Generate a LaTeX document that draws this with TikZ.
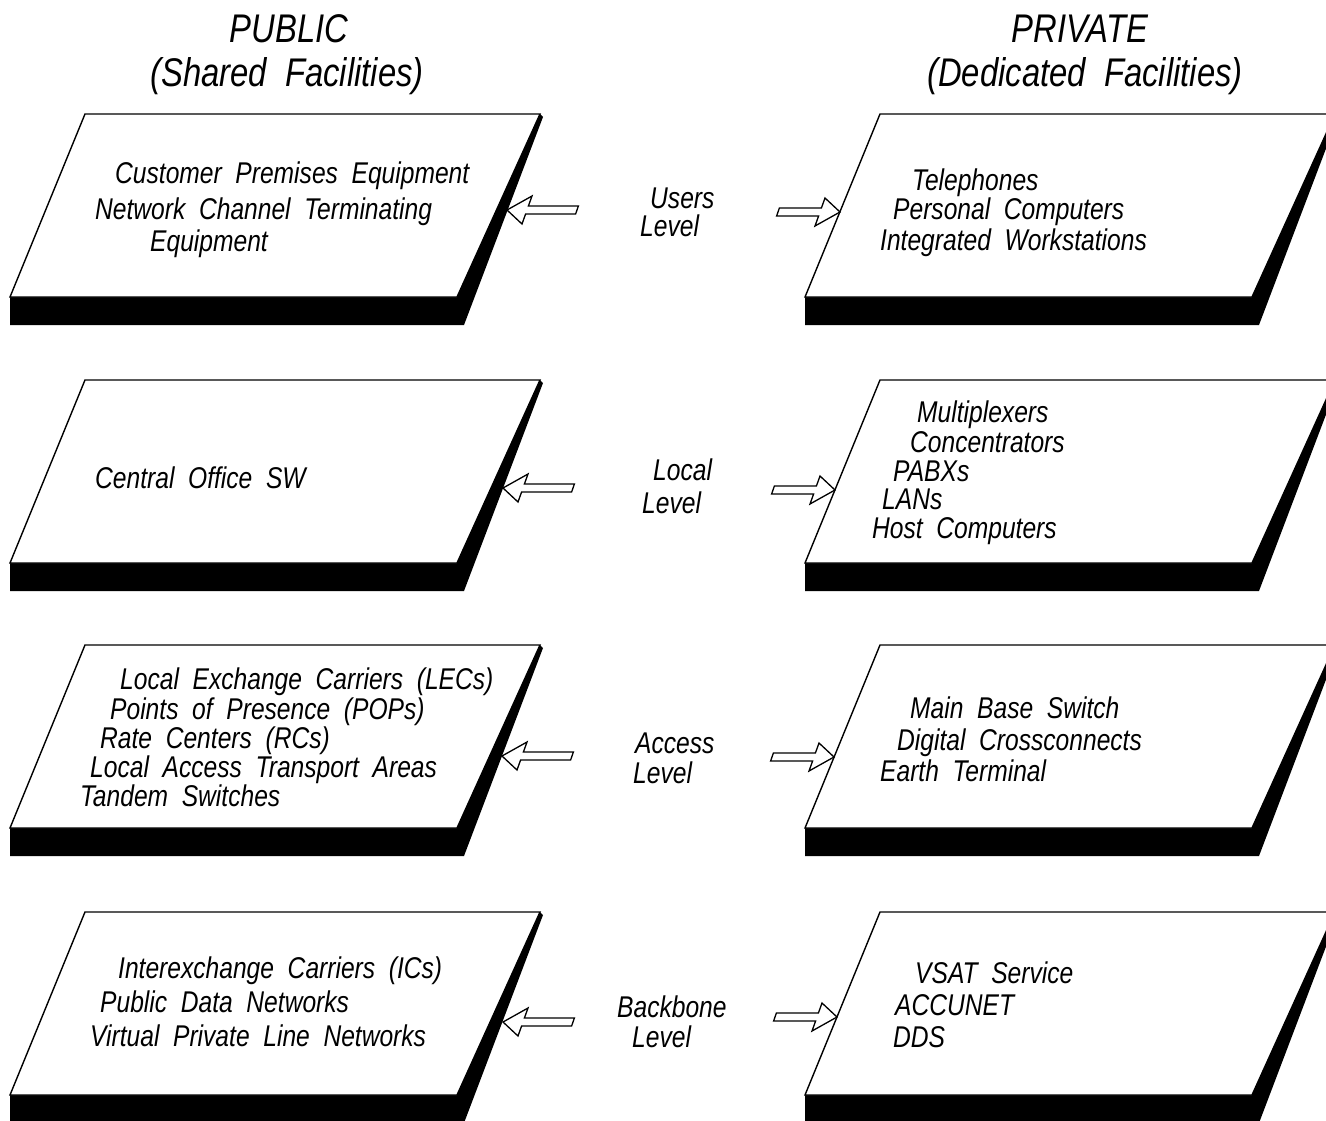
\documentclass[tikz,border=0pt]{standalone}
\usepackage{fontspec}
\setmainfont{Liberation Sans}[FakeStretch=0.82, WordSpace=2.0]
\tikzset{
  txt/.style={font=\fontsize{30}{30}\selectfont\itshape, inner sep=0pt, anchor=base west},
  head/.style={font=\fontsize{40}{40}\selectfont\itshape, inner sep=0pt, anchor=base},
  face/.style={draw=black, fill=white, line width=1.4pt, line join=miter},
  hollow/.style={draw=black, fill=white, line width=1.3pt, line join=miter},
  % a raised plate: white top face, black front edge and right side
  slab/.pic={
    \fill[black] (-75,183) -- (372,183) -- (455,0) -- (458,3) -- (379,211) -- (-75,211) -- cycle;
    \draw[face] (0,0) -- (455,0) -- (372,183) -- (-75,183) -- cycle;
  },
  % hollow slanted block arrows, tip at the origin
  larrow/.pic={
    \draw[hollow] (0,0) -- (25,-14) -- (21.4,-4) -- (71.4,-4) -- (68.6,4) -- (18.6,4) -- (15,14) -- cycle;
  },
  rarrow/.pic={
    \draw[hollow] (0,0) -- (-15,-14) -- (-18.6,-4) -- (-60.6,-4) -- (-63.4,4) -- (-21.4,4) -- (-25,14) -- cycle;
  }
}
\begin{document}
\begin{tikzpicture}[x=1pt,y=-1pt]
\useasboundingbox (0,0) rectangle (1326,1120);
\clip (0,0) rectangle (1326,1120);
\fill[white] (0,0) rectangle (1326,1120);

% column headings
\node[head] (pub)  at (289,42) {PUBLIC};
\node[head] (pubs) at (287,86) {(Shared Facilities)};
\node[head] (pri)  at (1080,42) {PRIVATE};
\node[head] (pris) at (1085,86) {(Dedicated Facilities)};

% plates
\foreach \r/\y in {1/114, 2/380, 3/645, 4/912} {
  \pic (pl\r) at (85,\y) {slab};
  \pic (pr\r) at (880,\y) {slab};
}

% public side
\node[txt] (l1a) at (115,183) {Customer Premises Equipment};
\node[txt] (l1b) at (95,219) {Network Channel Terminating};
\node[txt] (l1c) at (150,251) {Equipment};

\node[txt] (l2a) at (95,488) {Central Office SW};

\node[txt] (l3a) at (120,689) {Local Exchange Carriers (LECs)};
\node[txt] (l3b) at (110,719) {Points of Presence (POPs)};
\node[txt] (l3c) at (100,748) {Rate Centers (RCs)};
\node[txt] (l3d) at (90,777) {Local Access Transport Areas};
\node[txt] (l3e) at (80,806) {Tandem Switches};

\node[txt] (l4a) at (118,978) {Interexchange Carriers (ICs)};
\node[txt] (l4b) at (100,1012) {Public Data Networks};
\node[txt] (l4c) at (90,1046) {Virtual Private Line Networks};

% private side
\node[txt] (r1a) at (912,190) {Telephones};
\node[txt] (r1b) at (893,219) {Personal Computers};
\node[txt] (r1c) at (880,250) {Integrated Workstations};

\node[txt] (r2a) at (917,422) {Multiplexers};
\node[txt] (r2b) at (910,452) {Concentrators};
\node[txt] (r2c) at (893,481) {PABXs};
\node[txt] (r2d) at (882,509) {LANs};
\node[txt] (r2e) at (872,538) {Host Computers};

\node[txt] (r3a) at (910,718) {Main Base Switch};
\node[txt] (r3b) at (897,750) {Digital Crossconnects};
\node[txt] (r3c) at (880,781) {Earth Terminal};

\node[txt] (r4a) at (915,983) {VSAT Service};
\node[txt] (r4b) at (895,1015) {ACCUNET};
\node[txt] (r4c) at (893,1047) {DDS};

% level names
\node[txt] (u1) at (650,208) {Users};
\node[txt] (u2) at (640,236) {Level};
\node[txt] (c1) at (653,480) {Local};
\node[txt] (c2) at (642,513) {Level};
\node[txt] (a1) at (635,753) {Access};
\node[txt] (a2) at (633,783) {Level};
\node[txt] (b1) at (617,1017) {Backbone};
\node[txt] (b2) at (632,1047) {Level};

% arrow tips on the plate edges
\coordinate (tl1) at (507,210);  \coordinate (tr1) at (840,212);
\coordinate (tl2) at (503,488);  \coordinate (tr2) at (835,490);
\coordinate (tl3) at (502,756);  \coordinate (tr3) at (834,757);
\coordinate (tl4) at (503,1022); \coordinate (tr4) at (837,1017);
\foreach \r in {1,2,3,4} {
  \pic at (tl\r) {larrow};
  \pic at (tr\r) {rarrow};
}
\end{tikzpicture}
\end{document}
